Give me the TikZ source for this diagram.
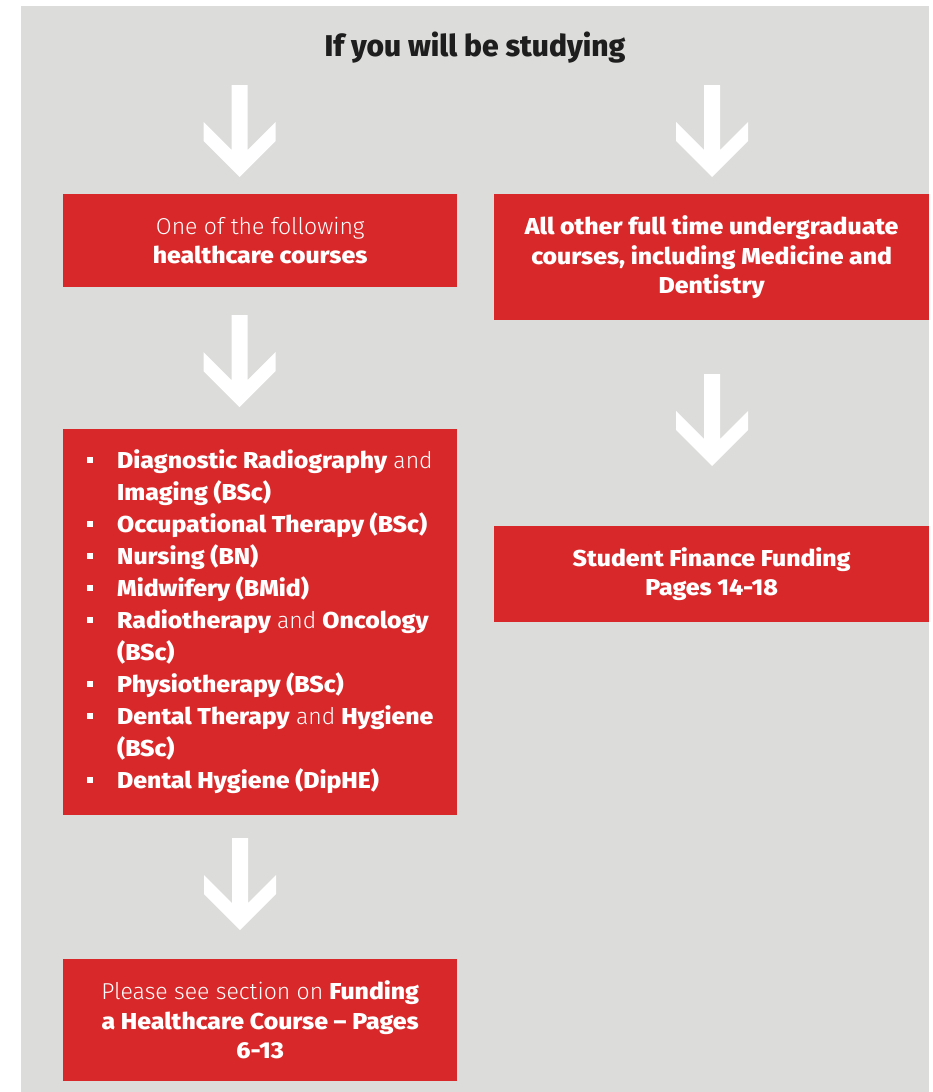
\documentclass[tikz,border=0pt]{standalone}
\usepackage{fontspec}
\setmainfont{Fira Sans}[BoldFont={Fira Sans ExtraBold}, BoldFeatures={FakeStretch=1.08}]
\newfontfamily\lt{Fira Sans Light}
\newfontfamily\ttl{Fira Sans ExtraBold}
\definecolor{bg}{HTML}{DCDCDA}
\definecolor{rd}{HTML}{D9282A}
\definecolor{ink}{HTML}{1E1E1E}
\newcommand\bul{\makebox[30pt][l]{\rule[5.5pt]{6pt}{6pt}}}
\newcommand\ind{\hspace*{30pt}}
\tikzset{
  redbox/.style={fill=rd, draw=none, inner sep=0pt, anchor=north west},
  boxtext/.style={text=white, align=center, font=\fontsize{23}{29.5}\selectfont},
  dnarrow/.pic={\fill[white] (-8,0) -- (8,0) -- (8,65) -- (36,37) -- (36,56) -- (0,92) -- (-36,56) -- (-36,37) -- (-8,65) -- cycle;}
}
\begin{document}
\begin{tikzpicture}[x=1pt,y=-1pt]
\useasboundingbox (0,0) rectangle (932,1092);
\fill[bg] (21,6) rectangle (929,1092);
\node[text=ink, font=\fontsize{30}{36}\selectfont\ttl, anchor=base] (title) at (475,56) {If you will be studying};
% boxes
\node[redbox, minimum width=394pt, minimum height=93pt, boxtext] (hc) at (63,194) {{\lt One of the following}\\\textbf{healthcare courses}};
\node[redbox, minimum width=435pt, minimum height=126pt, boxtext, font=\fontsize{23}{29.5}\selectfont\bfseries] (other) at (494,194) {All other full time undergraduate\\courses, including Medicine and\\Dentistry};
\node[redbox, minimum width=394pt, minimum height=386pt] (list) at (63,429) {};
\node[anchor=west, text=white, align=left, inner sep=0pt, font=\fontsize{23}{32}\selectfont] (items) at (87,622) {%
\bul\textbf{Diagnostic Radiography} {\lt and}\\
\ind\textbf{Imaging (BSc)}\\
\bul\textbf{Occupational Therapy (BSc)}\\
\bul\textbf{Nursing (BN)}\\
\bul\textbf{Midwifery (BMid)}\\
\bul\textbf{Radiotherapy} {\lt and} \textbf{Oncology}\\
\ind\textbf{(BSc)}\\
\bul\textbf{Physiotherapy (BSc)}\\
\bul\textbf{Dental Therapy} {\lt and} \textbf{Hygiene}\\
\ind\textbf{(BSc)}\\
\bul\textbf{Dental Hygiene (DipHE)}};
\node[redbox, minimum width=435pt, minimum height=96pt, boxtext, font=\fontsize{23}{29.5}\selectfont\bfseries] (sff) at (494,526) {Student Finance Funding\\Pages 14-18};
\node[redbox, minimum width=394pt, minimum height=122pt, boxtext] (fhc) at (63,959) {{\lt Please see section on} \textbf{Funding}\\\textbf{a Healthcare Course -- Pages}\\\textbf{6-13}};
% arrows
\coordinate (a1) at (239.5,85);
\coordinate (a2) at (712,85);
\coordinate (a3) at (239.5,315);
\coordinate (a4) at (712,374);
\coordinate (a5) at (240,838);
\pic at (a1) {dnarrow};
\pic at (a2) {dnarrow};
\pic at (a3) {dnarrow};
\pic at (a4) {dnarrow};
\pic at (a5) {dnarrow};
\end{tikzpicture}
\end{document}
